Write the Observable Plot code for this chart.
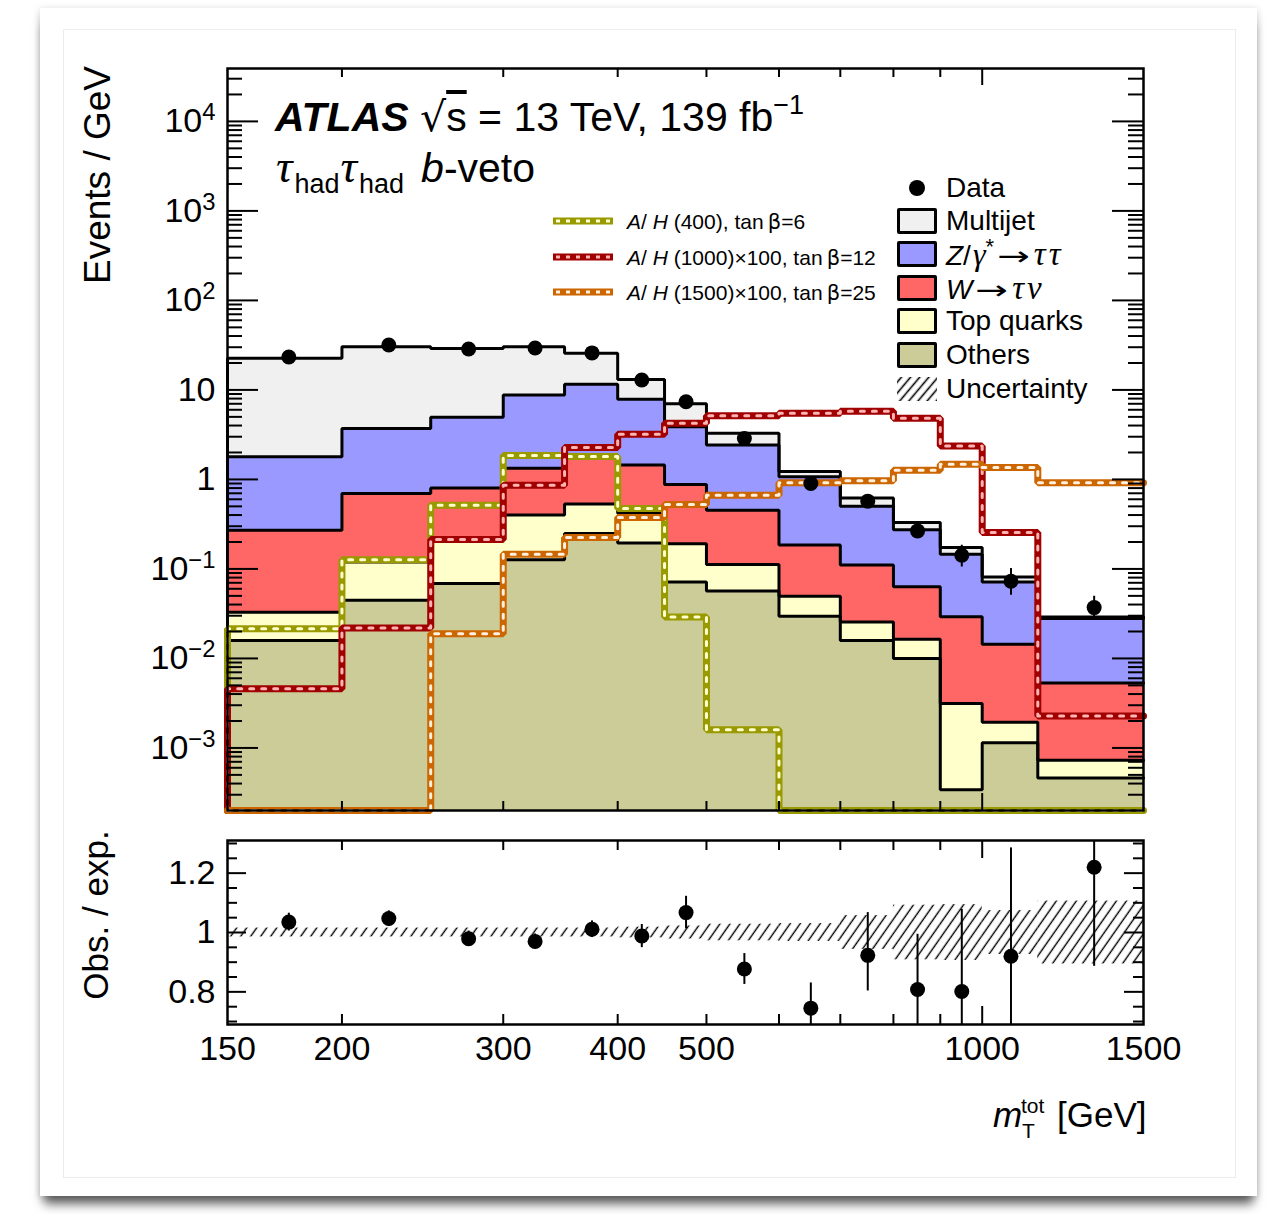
<!DOCTYPE html>
<html><head><meta charset="utf-8">
<script src="https://cdn.jsdelivr.net/npm/d3@7"></script>
<script src="https://cdn.jsdelivr.net/npm/@observablehq/plot@0.6"></script>
<style>
html,body{margin:0;padding:0;background:#fff;}
body{width:1275px;height:1214px;position:relative;overflow:hidden;font-family:"Liberation Sans",Arial,Helvetica,sans-serif;color:#000;}
#card{position:absolute;left:40px;top:8px;width:1217px;height:1188px;background:#fff;box-shadow:0 12px 10px -4px rgba(0,0,0,.6),0 2px 8px rgba(0,0,0,.2);}
#inner{position:absolute;left:63px;top:29px;width:1173px;height:1149px;border:1px solid #ececec;box-sizing:border-box;}
.plot{position:absolute;left:0;}
.t{position:absolute;white-space:nowrap;}
.g{font-family:"Liberation Serif","DejaVu Serif",serif;font-style:italic;}
.b{font-family:"DejaVu Sans",sans-serif;font-style:normal;}
.box{position:absolute;left:897px;width:40px;height:26px;border:3px solid #000;box-sizing:border-box;border-radius:2px;}
</style></head><body>
<div id="card"></div>
<div id="inner"></div>
<svg width="0" height="0" style="position:absolute">
  <defs>
    <pattern id="hatch" width="8.2" height="10" patternUnits="userSpaceOnUse" patternTransform="rotate(35)">
      <line x1="4" y1="0" x2="4" y2="10" stroke="#000" stroke-width="1.4"/>
    </pattern>
    <pattern id="hatchLeg" width="7" height="10" patternUnits="userSpaceOnUse" patternTransform="rotate(40)">
      <line x1="3.5" y1="0" x2="3.5" y2="10" stroke="#000" stroke-width="1.6"/>
    </pattern>
  </defs>
</svg>
<div id="main" class="plot" style="top:0"></div>
<div id="ratio" class="plot" style="top:830px"></div>
<div id="overlay"></div>
<script>
// ---------------- data ----------------
const binEdges   = [150, 200, 250, 300, 350, 400, 450, 500, 600, 700, 800, 900, 1000, 1150, 1500];
const binCenters = [175, 225, 275, 325, 375, 425, 475, 550, 650, 750, 850, 950, 1075, 1325];

// background processes, Events / GeV
const others    = [0.0159, 0.0447, 0.0687, 0.127, 0.249, 0.195, 0.0716, 0.0568, 0.0296, 0.0159, 0.0100, 0.00034, 0.00114, 0.00046];
const topQuarks = [0.0169, 0.075, 0.141, 0.273, 0.281, 0.225, 0.120, 0.055, 0.020, 0.0096, 0.0064, 0.0028, 0.0008, 0.00027];
const wTauNu    = [0.238, 0.577, 0.59, 0.93, 1.34, 1.03, 0.688, 0.342, 0.135, 0.085, 0.047, 0.026, 0.0125, 0.0046];
const zTauTau   = [1.52, 3.02, 4.14, 7.44, 9.73, 6.40, 3.00, 1.97, 0.89, 0.39, 0.21, 0.117, 0.057, 0.0226];
const multijet  = [20.8, 26.7, 24.1, 21.6, 14.1, 5.25, 3.12, 0.85, 0.15, 0.12, 0.056, 0.027, 0.0098, 0.0011];

// signals
const sig400  = [0.0215, 0.127, 0.516, 1.85, 1.80, 0.474, 0.029, 0.0016, 0, 0, 0, 0, 0, 0];
const sig1000 = [0.00459, 0.0219, 0.213, 0.863, 2.28, 3.19, 4.23, 5.14, 5.47, 5.76, 4.81, 2.36, 0.255, 0.00227];
const sig1500 = [0, 0, 0.0189, 0.146, 0.224, 0.376, 0.525, 0.667, 0.916, 0.964, 1.27, 1.48, 1.36, 0.916];

// data
const dataVal = [23.3, 31.8, 28.7, 29.4, 25.9, 12.9, 7.38, 2.87, 0.90, 0.572, 0.266, 0.142, 0.0728, 0.037];
const dataLo  = [22.6, 31.0, 27.9, 28.6, 25.2, 12.4, 7.0, 2.72, 0.84, 0.52, 0.22, 0.105, 0.0508, 0.0267];
const dataHi  = [24.0, 32.6, 29.5, 30.2, 26.6, 13.4, 7.8, 3.03, 0.96, 0.65, 0.32, 0.184, 0.101, 0.0495];

// ratio panel
const ratioVal = [1.035, 1.047, 0.979, 0.970, 1.011, 0.988, 1.067, 0.877, 0.745, 0.923, 0.808, 0.801, 0.920, 1.220];
const ratioLo  = [1.005, 1.021, 0.953, 0.945, 0.983, 0.949, 1.012, 0.825, 0.665, 0.803, 0.650, 0.590, 0.640, 0.886];
const ratioHi  = [1.065, 1.073, 1.005, 0.995, 1.039, 1.027, 1.122, 0.929, 0.830, 1.067, 0.994, 1.078, 1.285, 1.580];
const uncHalf  = [0.015, 0.015, 0.015, 0.015, 0.015, 0.018, 0.022, 0.028, 0.030, 0.057, 0.092, 0.094, 0.074, 0.106];

// ticks / labels
const xLabelTicks = [150, 200, 300, 400, 500, 1000, 1500];
const xMinorTicks = [200, 300, 400, 500, 600, 700, 800, 900];
const xMajorTicks = [1000];
const yMajorTicks = [1e-3, 1e-2, 1e-1, 1, 10, 100, 1e3, 1e4];
const rMajorTicks = [0.8, 1.0, 1.2];
const rMinorTicks = [0.7, 0.75, 0.85, 0.9, 0.95, 1.05, 1.1, 1.15, 1.25, 1.3];

const procNames  = ["Others", "Top quarks", "W→τν", "Z/γ*→ττ", "Multijet"];
const procColors = ["#CCCC99", "#FFFFCC", "#FF6666", "#9999FF", "#F0F0F0"];
const sigColors  = [["#999900", "#FFFFD0"], ["#A00000", "#FFB4B4"], ["#CC6600", "#FFF0E0"]];

// ---------------- geometry ----------------
const W = 1275, ML = 227, MR = 132;
const frameW = W - ML - MR;
const yMin = 2e-4, yMax = 3.9e4;
const mainTop = 68, mainFrameH = 742;
const rTop = 10, rFrameH = 184;
const font = '"Liberation Sans", Arial, Helvetica, sans-serif';

const clampY = v => Math.max(v, yMin);
const procs = [others, topQuarks, wTauNu, zTauTau, multijet];
let running = binCenters.map(() => 0);
const layers = procs.map((p, k) => {
  const lo = running, hi = lo.map((v, i) => v + p[i]);
  running = hi;
  return {name: procNames[k], color: procColors[k],
          rects: binCenters.map((c, i) => ({x1: binEdges[i], x2: binEdges[i + 1], y1: clampY(lo[i]), y2: hi[i]})),
          hi};
});

// histogram outline: rises from the floor at the left edge, steps across bins, ends at right edge
function stepPts(vals, fl) {
  const n = binEdges.length - 1;
  const pts = [{x: binEdges[0], y: fl}];
  vals.forEach((v, i) => pts.push({x: binEdges[i], y: Math.max(v, fl)}));
  pts.push({x: binEdges[n], y: Math.max(vals[n - 1], fl)});
  return pts;
}

const yMinor = [];
for (let d = -4; d <= 4; d++) for (let k = 2; k <= 9; k++) {
  const v = k * Math.pow(10, d);
  if (v > yMin * 1.001 && v < yMax) yMinor.push(v);
}

const points = binCenters.map((c, i) => ({x: c, y: dataVal[i], lo: dataLo[i], hi: dataHi[i]}));
const rpoints = binCenters.map((c, i) => ({x: c, y: ratioVal[i], lo: ratioLo[i], hi: ratioHi[i]}));
const band = binCenters.map((c, i) => ({x1: binEdges[i], x2: binEdges[i + 1], y1: 1 - uncHalf[i], y2: 1 + uncHalf[i]}));

const yFmt = d => {
  const e = Math.round(Math.log10(d));
  if (e === 0) return "1";
  if (e === 1) return "10";
  return "10^" + (e < 0 ? "\u2212" + (-e) : String(e));
};

function insetTicks(vals, axis, len, sw, frameLen) {
  const out = [];
  if (axis === "y") {
    out.push(Plot.tickY(vals, {y: d => d, insetRight: frameLen - len, stroke: "black", strokeWidth: sw}));
    out.push(Plot.tickY(vals, {y: d => d, insetLeft: frameLen - len, stroke: "black", strokeWidth: sw}));
  } else {
    out.push(Plot.tickX(vals, {x: d => d, insetTop: frameLen - len, stroke: "black", strokeWidth: sw}));
    out.push(Plot.tickX(vals, {x: d => d, insetBottom: frameLen - len, stroke: "black", strokeWidth: sw}));
  }
  return out;
}

// ---------------- main panel ----------------
const mainMarks = [];
layers.forEach(L => mainMarks.push(Plot.rectY(L.rects, {x1: "x1", x2: "x2", y1: "y1", y2: "y2", fill: L.color, stroke: L.color, strokeWidth: 0.6, shapeRendering: "crispEdges"})));
layers.forEach(L => mainMarks.push(Plot.line(stepPts(L.hi, yMin), {x: "x", y: "y", curve: "step-after", stroke: "black", strokeWidth: 3, strokeLinejoin: "miter"})));
[sig400, sig1000, sig1500].forEach((s, k) => {
  const pts = stepPts(s, yMin);
  mainMarks.push(Plot.line(pts, {x: "x", y: "y", curve: "step-after", stroke: sigColors[k][0], strokeWidth: 7, strokeLinejoin: "miter"}));
  mainMarks.push(Plot.line(pts, {x: "x", y: "y", curve: "step-after", stroke: sigColors[k][1], strokeWidth: 3, strokeDasharray: "4,8"}));
});
mainMarks.push(...insetTicks(yMajorTicks, "y", 31, 2, frameW));
mainMarks.push(...insetTicks(yMinor, "y", 15, 2, frameW));
mainMarks.push(...insetTicks(xMinorTicks, "x", 9, 2, mainFrameH));
mainMarks.push(...insetTicks(xMajorTicks, "x", 17, 2, mainFrameH));
mainMarks.push(Plot.ruleX(points, {x: "x", y1: "lo", y2: "hi", stroke: "black", strokeWidth: 2}));
mainMarks.push(Plot.dot(points, {x: "x", y: "y", r: 7.5, fill: "black"}));
mainMarks.push(Plot.frame({stroke: "black", strokeWidth: 2.5}));
mainMarks.push(Plot.axisY({ticks: yMajorTicks, tickFormat: yFmt, tickSize: 0, tickPadding: 12, label: null}));

const mainPlot = Plot.plot({
  width: W, height: mainTop + mainFrameH + 12,
  marginLeft: ML, marginRight: MR, marginTop: mainTop, marginBottom: 12,
  x: {type: "log", domain: [150, 1500], axis: null, label: null},
  y: {type: "log", domain: [yMin, yMax], axis: null, label: null},
  style: {fontFamily: font, fontSize: "34px", color: "black", background: "transparent", overflow: "visible"},
  marks: mainMarks
});
document.getElementById("main").appendChild(mainPlot);

// superscripts on log tick labels
d3.select(mainPlot).selectAll('g[aria-label="y-axis tick label"] text').each(function () {
  const t = this.textContent;
  if (t.includes("^")) {
    const [b, e] = t.split("^");
    this.textContent = b;
    d3.select(this).append("tspan").attr("dy", "-0.5em").attr("font-size", "0.7em").text(e);
  }
});

// ---------------- ratio panel ----------------
const ratioPlot = Plot.plot({
  width: W, height: rTop + rFrameH + 50,
  marginLeft: ML, marginRight: MR, marginTop: rTop, marginBottom: 50,
  x: {type: "log", domain: [150, 1500], axis: null, label: null},
  y: {domain: [0.69, 1.31], axis: null, label: null},
  style: {fontFamily: font, fontSize: "34px", color: "black", background: "transparent", overflow: "visible"},
  marks: [
    Plot.rectY(band, {x1: "x1", x2: "x2", y1: "y1", y2: "y2", fill: "url(#hatch)"}),
    ...insetTicks(rMajorTicks, "y", 19, 2, frameW),
    ...insetTicks(rMinorTicks, "y", 10, 2, frameW),
    ...insetTicks(xMinorTicks, "x", 10, 2, rFrameH),
    ...insetTicks(xMajorTicks, "x", 18, 2, rFrameH),
    Plot.ruleX(rpoints, {x: "x", y1: "lo", y2: "hi", stroke: "black", strokeWidth: 2, clip: true}),
    Plot.dot(rpoints, {x: "x", y: "y", r: 7.5, fill: "black"}),
    Plot.frame({stroke: "black", strokeWidth: 2.5}),
    Plot.axisY({ticks: rMajorTicks, tickFormat: d => (d === 1 ? "1" : d.toFixed(1)), tickSize: 0, tickPadding: 12, label: null}),
    Plot.axisX({ticks: xLabelTicks, tickFormat: d => String(d), tickSize: 0, tickPadding: 11, label: null})
  ]
});
document.getElementById("ratio").appendChild(ratioPlot);

// ---------------- text & legends ----------------
const ov = document.getElementById("overlay");
function addText(html, left, baseline, fs, extra = "") {
  const d = document.createElement("div");
  d.className = "t";
  d.style.cssText = `left:${left}px;top:${baseline - 0.8465 * fs}px;font-size:${fs}px;line-height:${fs}px;${extra}`;
  d.innerHTML = html;
  ov.appendChild(d);
  return d;
}
function addRot(text, cx, cy, fs) {
  const d = document.createElement("div");
  d.className = "t";
  d.style.cssText = `left:${cx}px;top:${cy}px;font-size:${fs}px;line-height:${fs}px;transform:translate(-50%,-50%) rotate(-90deg);`;
  d.textContent = text;
  ov.appendChild(d);
}

// ATLAS label
addText('<b><i>ATLAS</i></b>&nbsp;<span style="font-family:\'DejaVu Sans\'">\u221A</span><span style="text-decoration:overline">s</span> = 13 TeV, 139 fb<span style="font-size:27px;position:relative;top:-17px;">\u22121</span>', 275, 132, 41);
const tau = '<span class="g" style="font-size:46px;margin:0 2px 0 1px">\u03C4</span>';
const had = '<span style="font-size:27px;position:relative;top:11px;">had</span>';
addText(tau + had + tau + had + '<span style="margin-left:17px"><i>b</i>-veto</span>', 275, 181, 41);

// signal legend
const sigLabels = [
  '<i>A</i>/ <i>H</i> (400), tan\u2009<span class="b">\u03B2</span>=6',
  '<i>A</i>/ <i>H</i> (1000)\u00D7100, tan\u2009<span class="b">\u03B2</span>=12',
  '<i>A</i>/ <i>H</i> (1500)\u00D7100, tan\u2009<span class="b">\u03B2</span>=25'
];
const sigRowY = [221, 257, 292];
sigLabels.forEach((lab, k) => {
  addText(lab, 627, sigRowY[k] + 7.5, 21);
  const s = document.createElementNS("http://www.w3.org/2000/svg", "svg");
  s.setAttribute("width", 64); s.setAttribute("height", 12);
  s.style.cssText = `position:absolute;left:551px;top:${sigRowY[k] - 6}px;`;
  s.innerHTML = `<line x1="2" y1="6" x2="62" y2="6" stroke="${sigColors[k][0]}" stroke-width="7"/>` +
                `<line x1="5" y1="6" x2="62" y2="6" stroke="${sigColors[k][1]}" stroke-width="3" stroke-dasharray="4,6"/>`;
  ov.appendChild(s);
});

// background legend
const rowY = [188, 221, 254, 288, 321, 355, 389];
const dataDot = document.createElementNS("http://www.w3.org/2000/svg", "svg");
dataDot.setAttribute("width", 20); dataDot.setAttribute("height", 20);
dataDot.style.cssText = `position:absolute;left:907px;top:${rowY[0] - 10}px;`;
dataDot.innerHTML = '<circle cx="10" cy="10" r="8" fill="#000"/>';
ov.appendChild(dataDot);
addText("Data", 946, rowY[0] + 10, 28);
const legOrder = [4, 3, 2, 1, 0];
const arrow = '<span class="b" style="font-size:26px;display:inline-block;transform:scaleX(1.5);margin:0 9px 0 9px">\u2192</span>';
const legHtml = {
  4: "Multijet",
  3: '<i>Z</i>/<span class="g" style="font-size:32px;margin-left:2px">\u03B3</span><span style="font-size:22px;position:relative;top:-11px;">*</span>' + arrow + '<span class="g" style="font-size:33px;letter-spacing:3px">\u03C4\u03C4</span>',
  2: '<i>W</i>' + arrow + '<span class="g" style="font-size:33px;letter-spacing:3px">\u03C4\u03BD</span>',
  1: "Top quarks",
  0: "Others"
};
legOrder.forEach((k, j) => {
  const y = rowY[j + 1];
  const b = document.createElement("div");
  b.className = "box";
  b.style.top = (y - 13) + "px";
  b.style.background = procColors[k];
  ov.appendChild(b);
  addText(legHtml[k], 946, y + 10, 28);
});
const hs = document.createElementNS("http://www.w3.org/2000/svg", "svg");
hs.setAttribute("width", 40); hs.setAttribute("height", 24);
hs.style.cssText = `position:absolute;left:897px;top:${rowY[6] - 12}px;`;
hs.innerHTML = '<rect x="0" y="0" width="40" height="24" fill="url(#hatchLeg)"/>';
ov.appendChild(hs);
addText("Uncertainty", 946, rowY[6] + 10, 28);

// axis titles
addRot("Events / GeV", 97, 175, 37);
addRot("Obs. / exp.", 95, 915, 35);
addText('<i>m</i>', 993, 1127, 35);
addText('tot', 1021, 1113, 21);
addText('T', 1022, 1138, 21);
addText('[GeV]', 1057, 1127, 35);
</script>
</body></html>
